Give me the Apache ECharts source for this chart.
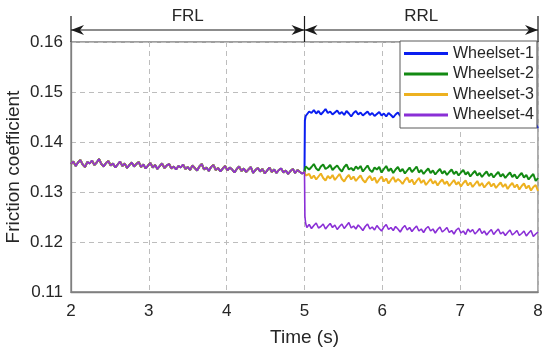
<!DOCTYPE html>
<html>
<head>
<meta charset="utf-8">
<script src="https://cdn.jsdelivr.net/npm/echarts@6/dist/echarts.min.js"></script>
<style>
html,body{margin:0;padding:0;background:#fff;}
#chart{width:550px;height:352px;}
</style>
</head>
<body>
<div id="chart"></div>
<script>
// ---- data ----
const seriesNames = ['Wheelset-1', 'Wheelset-2', 'Wheelset-3', 'Wheelset-4'];
const seriesColors = ['#0a1ef0', '#138a13', '#edb120', '#8a2fd6'];
const xTicks = [2, 3, 4, 5, 6, 7, 8];
const yTicks = [0.11, 0.12, 0.13, 0.14, 0.15, 0.16];
const regionBounds = [2, 5, 8];
const regionLabels = ['FRL', 'RRL'];

// friction values below are given in units of 1e-4
const valueUnit = 1e-4;
// FRL segment: t = 2.00 ... 5.00, sampled every 0.03 s (all wheelsets overlap)
const frlStart = 2.0, sampleStep = 0.03;
const frlValues = [
  1356,1361,1352,1359,1364,1355,1350,1360,1357,1363,
  1354,1359,1366,1356,1351,1358,1362,1353,1357,1349,
  1355,1361,1352,1357,1348,1354,1359,1351,1356,1360,
  1350,1355,1347,1353,1358,1349,1354,1346,1352,1357,
  1348,1353,1356,1347,1351,1345,1352,1349,1355,1346,
  1350,1344,1353,1348,1343,1351,1356,1345,1349,1342,
  1350,1354,1344,1348,1341,1347,1352,1343,1349,1345,
  1339,1346,1351,1342,1347,1340,1345,1350,1338,1344,
  1348,1341,1346,1337,1343,1349,1340,1345,1338,1344,
  1347,1339,1343,1336,1342,1346,1338,1344,1340,1337,
  1340
];
// transition samples just after t = 5 s
const jumpTimes = [5.005, 5.015];
const jump1 = [1443, 1452];
const jump2 = [1346, 1351];
const jump3 = [1337, 1333];
const jump4 = [1252, 1237];
// RRL segment: t = 5.03 ... 8.00, sampled every 0.03 s
const rrlStart = 5.03;
const rrl1 = [
  1456,1461,1458,1464,1457,1462,1455,1460,1466,1458,
  1461,1455,1459,1463,1456,1460,1454,1462,1457,1451,
  1458,1462,1455,1459,1453,1457,1461,1454,1458,1452,
  1456,1460,1453,1457,1451,1458,1454,1449,1455,1459,
  1452,1456,1450,1454,1458,1451,1455,1449,1453,1457,
  1450,1454,1448,1452,1456,1449,1453,1447,1451,1455,
  1448,1452,1446,1450,1454,1447,1451,1445,1449,1453,
  1446,1450,1444,1448,1452,1445,1449,1443,1447,1451,
  1444,1448,1442,1446,1450,1443,1447,1441,1445,1449,
  1442,1446,1440,1444,1447,1441,1445,1439,1436,1428
];
const rrl2 = [
  1352,1345,1350,1356,1347,1343,1351,1355,1346,1349,
  1354,1344,1349,1353,1346,1341,1350,1355,1345,1348,
  1343,1351,1346,1352,1341,1347,1353,1344,1340,1349,
  1345,1350,1339,1346,1352,1342,1347,1338,1345,1350,
  1341,1346,1337,1343,1349,1340,1345,1351,1339,1344,
  1336,1342,1347,1338,1343,1335,1341,1346,1337,1342,
  1334,1340,1345,1336,1341,1333,1339,1344,1335,1340,
  1331,1337,1342,1333,1338,1330,1336,1341,1332,1337,
  1329,1335,1340,1331,1336,1328,1334,1339,1330,1335,
  1327,1333,1338,1329,1334,1325,1331,1336,1322,1328
];
const rrl3 = [
  1330,1336,1327,1333,1325,1331,1337,1328,1323,1332,
  1327,1334,1324,1330,1336,1326,1321,1329,1334,1325,
  1331,1322,1328,1333,1324,1319,1327,1332,1323,1329,
  1318,1325,1331,1321,1327,1317,1324,1330,1320,1326,
  1322,1316,1324,1329,1319,1325,1315,1322,1328,1318,
  1324,1314,1320,1326,1317,1322,1313,1320,1325,1316,
  1321,1312,1318,1324,1315,1320,1311,1318,1323,1313,
  1319,1310,1316,1322,1312,1318,1309,1315,1320,1311,
  1317,1308,1314,1319,1310,1316,1306,1313,1318,1309,
  1315,1305,1312,1317,1307,1313,1303,1310,1314,1302
];
const rrl4 = [
  1229,1235,1227,1233,1238,1228,1231,1236,1226,1232,
  1237,1229,1234,1225,1231,1236,1227,1233,1239,1228,
  1232,1226,1234,1229,1223,1231,1236,1226,1230,1224,
  1233,1227,1222,1230,1235,1225,1229,1223,1231,1226,
  1220,1228,1233,1224,1229,1221,1227,1232,1222,1226,
  1219,1227,1231,1222,1226,1218,1225,1230,1220,1224,
  1229,1219,1223,1216,1224,1228,1218,1222,1215,1226,
  1220,1225,1216,1221,1227,1217,1222,1214,1220,1225,
  1215,1221,1226,1216,1220,1213,1219,1224,1214,1218,
  1223,1213,1217,1222,1212,1218,1223,1211,1216,1220
];
const jumps = [jump1, jump2, jump3, jump4];
const rrls = [rrl1, rrl2, rrl3, rrl4];

function buildData(jump, rrl) {
  const d = [];
  frlValues.forEach((v, i) => d.push([+(frlStart + i * sampleStep).toFixed(3), v * valueUnit]));
  jump.forEach((v, i) => d.push([jumpTimes[i], v * valueUnit]));
  rrl.forEach((v, i) => d.push([+(rrlStart + i * sampleStep).toFixed(3), v * valueUnit]));
  return d;
}

const textColor = '#262626';
const chart = echarts.init(document.getElementById('chart'), null, {renderer: 'canvas'});
const lineWidths = [2, 2, 2, 1.6];

const option = {
  animation: false,
  backgroundColor: '#ffffff',
  textStyle: {fontFamily: 'Liberation Sans, Arial, sans-serif'},
  grid: {left: 71, right: 12, top: 42, bottom: 60, outerBoundsMode: 'none', containLabel: false,
    show: true, borderColor: '#7f7f7f', borderWidth: 1.3, backgroundColor: 'transparent'},
  xAxis: {
    type: 'value', min: xTicks[0], max: xTicks[xTicks.length - 1], interval: 1,
    name: 'Time (s)', nameLocation: 'middle', nameGap: 36, nameMoveOverlap: false,
    nameTextStyle: {fontSize: 19, color: textColor, fontFamily: 'Liberation Sans'},
    axisLine: {show: true, lineStyle: {color: '#7f7f7f', width: 1.3}},
    axisTick: {show: false},
    axisLabel: {fontSize: 17, color: textColor, margin: 11, fontFamily: 'Liberation Sans'},
    splitLine: {show: true, lineStyle: {color: '#bdbdbd', type: [5, 4], width: 1}}
  },
  yAxis: {
    type: 'value', min: yTicks[0], max: yTicks[yTicks.length - 1], interval: 0.01,
    name: 'Friction coefficient', nameLocation: 'middle', nameGap: 48, nameMoveOverlap: false,
    nameTextStyle: {fontSize: 19, color: textColor, fontFamily: 'Liberation Sans'},
    axisLine: {show: true, lineStyle: {color: '#7f7f7f', width: 1.3}},
    axisTick: {show: false},
    axisLabel: {fontSize: 17, color: textColor, margin: 8, fontFamily: 'Liberation Sans', formatter: v => v.toFixed(2)},
    splitLine: {show: true, lineStyle: {color: '#bdbdbd', type: [5, 4], width: 1}}
  },
  legend: {
    data: seriesNames.map((n, k) => ({name: n, icon: 'rect', itemStyle: {color: seriesColors[k]}})),
    left: 400, top: 41,
    orient: 'vertical',
    itemWidth: 44, itemHeight: 3, itemGap: 4.5,
    padding: [4.5, 3, 5, 4],
    backgroundColor: '#ffffff',
    borderColor: '#5a5a5a', borderWidth: 1,
    borderRadius: 0,
    textStyle: {fontSize: 16, lineHeight: 14, color: textColor, fontFamily: 'Liberation Sans'},
    selectedMode: false
  },
  series: seriesNames.map((name, k) => ({
    name: name,
    type: 'line',
    data: buildData(jumps[k], rrls[k]),
    showSymbol: false,
    symbol: 'none',
    color: seriesColors[k],
    lineStyle: {color: seriesColors[k], width: lineWidths[k]},
    z: 2 + k,
    clip: true
  }))
};
chart.setOption(option);

// region annotations (FRL / RRL) above the plot, positioned through the axes
function px(t, y) { return chart.convertToPixel({gridIndex: 0}, [t, y]); }
const topY = px(regionBounds[0], yTicks[yTicks.length - 1])[1];
const arrowY = topY - 12;
const tickTop = topY - 26;
const ink = '#1a1a1a';
const graphics = [];
function arrowHead(x, y, dir) {
  const L = 13, W = 5, N = 9;
  return {
    type: 'polygon',
    shape: {points: [[x, y], [x - dir * L, y - W], [x - dir * N, y], [x - dir * L, y + W]]},
    style: {fill: ink}
  };
}
regionBounds.forEach(b => {
  const x = px(b, 0.16)[0];
  graphics.push({type: 'line', shape: {x1: x, y1: tickTop, x2: x, y2: topY}, style: {stroke: ink, lineWidth: 1.2}});
});
for (let i = 0; i < regionLabels.length; i++) {
  const x1 = px(regionBounds[i], 0.16)[0];
  const x2 = px(regionBounds[i + 1], 0.16)[0];
  graphics.push({type: 'line', shape: {x1: x1, y1: arrowY, x2: x2, y2: arrowY}, style: {stroke: ink, lineWidth: 1.2}});
  graphics.push(arrowHead(x1, arrowY, -1));
  graphics.push(arrowHead(x2, arrowY, 1));
  graphics.push({
    type: 'text',
    style: {text: regionLabels[i], x: (x1 + x2) / 2, y: arrowY - 14, align: 'center', verticalAlign: 'middle',
      fontSize: 17, fill: textColor, fontFamily: 'Liberation Sans'}
  });
}
chart.setOption({graphic: graphics});
</script>
</body>
</html>
